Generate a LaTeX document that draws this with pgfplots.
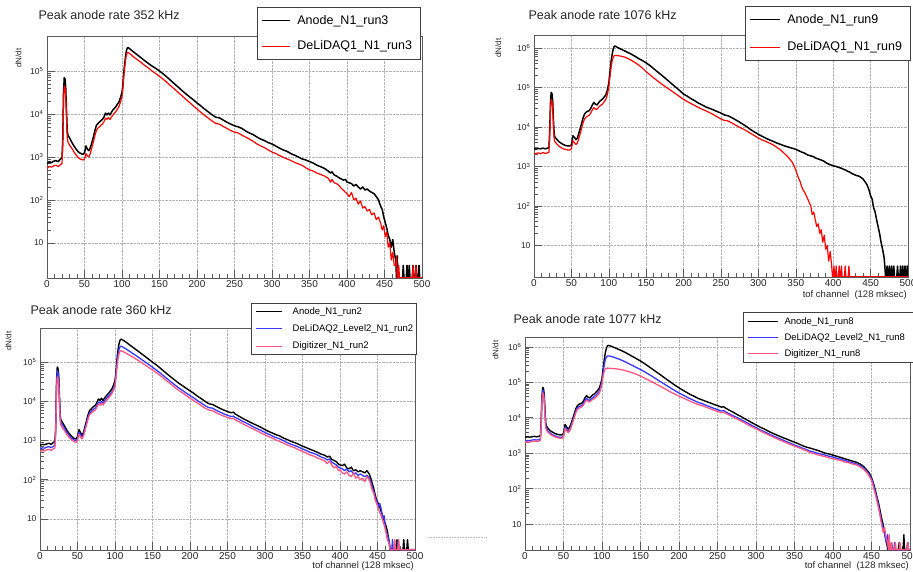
\documentclass[border=0pt]{standalone}
\usepackage{fontspec}
\setmainfont{Liberation Sans}
\usepackage{pgfplots}
\usepackage{pgfplotstable}
\pgfplotsset{compat=1.18}

\definecolor{rootblue}{RGB}{55,55,255}
\definecolor{rootpink}{RGB}{255,85,130}
\definecolor{rootred}{RGB}{255,0,0}
\definecolor{framegray}{RGB}{90,90,90}

% Panel 1: 352 kHz
\pgfplotstableread{
x a r
0 700 550
3 760 600
6 740 580
9 800 620
12 820 640
15 780 600
18 900 660
20 950 700
21 2500 1800
22 30000 20000
23 70000 45000
24 65000 42000
25 40000 25000
26 12000 8000
27 4000 2800
28 3200 2200
30 2800 1900
33 2200 1600
36 1800 1300
39 1500 1100
42 1300 950
45 1200 880
48 1150 850
50 1250 900
52 1800 1200
54 1500 1050
56 1400 1000
58 1700 1250
60 2200 1700
62 3000 2300
64 4200 3200
66 5500 4200
68 6000 4700
70 6500 5000
72 7000 5500
74 7500 5800
76 8500 6600
78 10500 8000
80 9500 7500
82 10500 8200
84 9500 7400
86 11000 8500
88 12500 9500
90 13500 10500
92 15000 11500
94 17000 13000
96 19000 15000
98 24000 19000
100 32000 25000
101 45000 35000
102 75000 60000
103 120000 95000
104 170000 135000
105 240000 190000
106 300000 240000
107 340000 265000
108 350000 270000
110 330000 255000
112 310000 240000
115 280000 215000
120 240000 185000
125 205000 160000
130 175000 135000
135 150000 118000
140 130000 100000
145 115000 87000
150 100000 75000
155 85000 64000
160 72000 54000
165 60000 45000
170 50000 38000
175 42000 31500
180 35000 26500
185 29500 22000
190 25000 18500
195 21500 15500
200 18000 13000
205 15500 11000
210 13000 9300
215 11200 8000
220 9600 6900
225 8400 6000
230 8100 5800
235 7200 5100
240 6400 4600
245 5800 4100
250 5300 3800
255 5000 3600
260 4600 3200
265 4000 2900
270 3600 2600
275 3300 2300
280 2900 2000
285 2600 1800
290 2400 1650
295 2150 1450
300 2000 1300
305 1800 1200
310 1600 1080
315 1450 980
320 1350 900
325 1200 830
330 1100 750
335 1000 690
340 900 640
345 850 560
350 780 500
355 720 470
360 640 420
365 590 390
370 540 360
375 470 320
378 420 260
380 450 300
383 380 250
386 360 240
389 330 220
392 310 190
395 290 170
398 300 150
400 260 140
403 250 120
406 240 150
409 210 100
412 230 110
415 200 80
418 180 95
421 200 65
424 170 70
427 180 55
430 160 60
433 150 45
436 140 50
439 120 35
442 100 40
445 70 28
447 60 20
449 40 25
451 30 14
453 22 18
455 15 8
457 12 10
459 8 4
461 12 6
463 6 3
465 4 3
466 1.55 5
467 5 1.55
468 1.55 1.55
469 1.55 3
470 1.55 1.55
474 1.55 1.55
475 3 1.55
476 1.55 1.55
479 1.55 1.55
480 3 1.55
481 1.55 1.55
482 1.55 1.55
483 3 1.55
484 1.55 1.55
487 1.55 1.55
488 3 3
489 1.55 1.55
491 1.55 1.55
492 3 3
493 1.55 1.55
495 1.55 1.55
496 3 1.55
497 1.55 1.55
500 1.55 1.55
}\tabA

% Panel 2: 1076 kHz
\pgfplotstableread{
x a r
0 2800 2100
3 2750 2150
6 2850 2200
9 2800 2100
12 2900 2250
15 2800 2150
18 2900 2200
20 3000 2300
21 8000 5500
22 40000 28000
23 75000 50000
24 70000 45000
25 45000 30000
26 15000 10000
27 6500 4800
28 5500 4200
30 5000 3800
33 4300 3300
36 3900 3000
39 3600 2800
42 3400 2700
45 3300 2600
48 3300 2600
50 3500 2800
52 6000 4500
54 5500 4000
56 4800 3600
58 5200 3900
60 7000 5200
62 9500 7000
64 13000 10000
66 18000 13500
68 22000 16500
70 24000 18000
72 25000 19000
74 26000 20000
76 30000 23000
78 36000 27000
80 42000 31000
82 38000 28500
84 36000 28000
86 40000 31000
88 45000 34000
90 48000 36000
92 52000 39000
94 58000 44000
96 65000 50000
98 85000 65000
100 130000 100000
101 200000 150000
102 300000 220000
103 450000 320000
104 600000 420000
105 780000 520000
106 950000 590000
107 1080000 630000
108 1120000 650000
110 1080000 650000
112 1030000 640000
115 960000 630000
120 870000 600000
125 780000 550000
130 700000 490000
135 620000 430000
140 540000 370000
145 480000 310000
150 420000 250000
155 360000 210000
160 300000 175000
165 250000 148000
170 210000 125000
175 175000 107000
180 145000 92000
185 120000 79000
190 100000 68000
195 83000 58000
200 68000 50000
205 60000 44000
210 52000 39000
215 46000 35000
220 40000 31000
225 36000 28000
230 32000 25500
235 29500 23000
240 27000 20500
245 24500 18000
250 22500 16000
255 20000 14500
258 19500 14500
260 19000 14000
265 17000 12500
270 15000 11000
275 13200 9800
280 11500 8800
285 10000 7800
290 8500 6800
295 7400 6000
300 6500 5200
305 5800 4700
310 5200 4300
315 4700 3900
320 4300 3500
325 3900 3000
330 3600 2600
335 3300 2100
340 3100 1700
345 2900 1300
348 2800 1000
350 2700 800
353 2550 550
356 2400 400
358 2300 300
360 2250 250
362 2150 220
364 2050 180
366 1950 150
368 1900 120
370 1850 100
372 1800 60
374 1750 70
376 1650 45
378 1600 30
380 1550 35
382 1500 20
384 1450 25
386 1400 12
388 1350 18
390 1250 8
392 1200 10
394 1150 4
396 1100 7
398 1080 3
399 1060 1.6
400 1050 1.6
401 1030 3
402 1020 1.6
403 1010 1.6
404 1000 3
405 980 1.6
407 950 1.6
408 940 3
409 920 1.6
410 910 1.6
411 900 3
412 880 1.6
415 830 1.6
416 820 3
417 800 1.6
420 740 1.6
421 730 3
422 720 1.6
425 660 1.6
430 600 1.6
435 560 1.6
440 480 1.6
445 350 1.6
448 250 1.6
450 180 1.6
452 150 1.6
454 90 1.6
456 70 1.6
458 45 1.6
460 30 1.6
462 20 1.6
464 12 1.6
466 8 1.6
468 5 1.6
469 3 1.6
470 1.6 1.6
471 1.6 1.6
472 3 1.6
473 1.6 1.6
474 1.6 1.6
475 3 1.6
476 1.6 1.6
477 1.6 1.6
478 3 1.6
479 1.6 1.6
480 1.6 1.6
481 3 1.6
482 1.6 1.6
485 1.6 1.6
486 3 1.6
487 1.6 1.6
489 1.6 1.6
490 3 1.6
491 1.6 1.6
492 1.6 1.6
493 3 1.6
494 1.6 1.6
495 1.6 1.6
496 3 1.6
497 1.6 1.6
498 1.6 1.6
499 3 1.6
500 1.6 1.6
}\tabB

% Panel 3: 360 kHz
\pgfplotstableread{
x a b c
0 750 620 520
3 800 650 560
6 780 640 540
9 820 680 580
12 850 700 600
15 800 660 560
18 900 720 620
20 950 760 650
21 2500 2000 1700
22 30000 25000 18000
23 75000 60000 42000
24 70000 55000 40000
25 45000 35000 26000
26 13000 10000 8000
27 4200 3500 3000
28 3300 2800 2400
30 2900 2500 2100
33 2300 2000 1750
36 1800 1600 1400
39 1500 1350 1200
42 1300 1150 1050
45 1150 1050 950
48 1100 1000 900
50 1250 1100 1000
52 1900 1650 1450
54 1600 1400 1250
56 1350 1200 1100
58 1600 1450 1300
60 2300 2000 1800
62 3200 2800 2500
64 4500 3900 3500
66 5800 5000 4500
68 6300 5500 4900
70 7000 6000 5400
72 7500 6400 5700
74 8000 6800 6100
76 9500 8000 7200
78 11500 9500 8600
80 10500 9000 8000
82 12000 10000 9000
84 10500 9000 8000
86 12000 10200 9100
88 13500 11500 10200
90 15000 12800 11300
92 16500 14000 12500
94 18500 15500 14000
96 21000 17500 16000
98 26000 21000 19000
100 34000 27000 24000
101 50000 40000 35000
102 85000 65000 55000
103 140000 105000 85000
104 200000 150000 120000
105 270000 195000 155000
106 330000 230000 180000
107 370000 250000 190000
108 385000 255000 195000
110 370000 245000 188000
112 350000 232000 180000
115 320000 215000 168000
120 270000 185000 148000
125 230000 160000 130000
130 195000 138000 113000
135 165000 118000 98000
140 140000 101000 85000
145 118000 87000 73000
150 100000 74000 63000
155 85000 63000 54000
160 71000 53000 46000
165 59000 44500 38500
170 49000 37000 32000
175 41000 31000 27000
180 34500 26000 22500
185 29000 22000 19000
190 25000 19000 16500
195 21500 16200 14000
200 18500 14000 12000
205 16000 12200 10400
210 13500 10400 9000
215 11700 9000 7800
220 10000 7800 6700
225 8700 6900 6000
230 8300 6700 5800
235 7400 5900 5100
240 6600 5300 4600
245 6000 4800 4200
250 5500 4400 3900
255 5100 4100 3600
258 5300 4200 3700
260 4800 3900 3400
265 4200 3500 3050
270 3700 3100 2700
275 3300 2800 2400
280 2950 2500 2150
285 2650 2200 1950
290 2400 2000 1750
295 2150 1800 1550
300 1900 1600 1400
305 1700 1450 1250
310 1550 1300 1150
315 1400 1180 1020
320 1300 1100 950
325 1150 980 850
330 1050 880 770
335 950 800 700
340 880 740 650
345 800 680 580
350 720 610 530
355 660 560 480
360 600 500 430
365 550 470 400
370 500 430 360
375 450 380 330
380 420 350 300
383 380 320 260
386 400 340 300
389 330 280 240
392 310 260 200
395 290 240 220
398 250 210 170
400 240 200 180
403 230 190 150
406 250 170 140
409 200 190 160
412 190 160 130
415 210 170 120
418 170 140 150
421 180 150 110
424 160 130 120
427 170 140 100
430 160 130 110
433 150 120 90
436 170 130 120
439 140 110 100
441 110 90 75
443 80 65 55
445 60 50 45
447 40 35 30
449 30 28 25
451 25 20 18
453 20 25 15
455 15 18 12
457 12 10 9
459 9 12 7
461 7 5 5
463 5 4 3
465 3 3 2.5
467 1.65 1.65 1.65
469 1.65 1.65 1.65
470 1.65 3 1.65
471 1.65 1.65 1.65
472 1.65 1.65 1.65
473 1.65 1.65 3
474 1.65 1.65 1.65
475 1.65 1.65 1.65
476 3 1.65 1.65
477 1.65 1.65 1.65
478 1.65 3 3
479 1.65 1.65 1.65
484 1.65 1.65 1.65
485 3 1.65 1.65
486 1.65 1.65 1.65
489 1.65 1.65 1.65
490 3 1.65 1.65
491 1.65 1.65 1.65
500 1.65 1.65 1.65
}\tabC

% Panel 4: 1077 kHz
\pgfplotstableread{
x a b c
0 2800 2250 2050
3 2900 2300 2100
6 2850 2250 2050
9 2900 2350 2150
12 3000 2400 2200
15 2900 2350 2150
18 3000 2400 2200
20 3100 2500 2300
21 8000 6500 6000
22 40000 32000 28000
23 72000 60000 50000
24 68000 55000 45000
25 45000 35000 30000
26 16000 13000 11000
27 7000 5800 5200
28 5800 4800 4400
30 5000 4200 3900
33 4300 3700 3400
36 3900 3300 3100
39 3600 3100 2900
42 3400 2900 2750
45 3300 2800 2650
48 3300 2800 2650
50 3600 3000 2850
52 6500 5500 5000
54 5500 4700 4300
56 4800 4100 3800
58 5400 4500 4200
60 7000 6000 5500
62 9500 8200 7500
64 13000 11000 10000
66 18000 15500 14000
68 22000 19000 17000
70 24000 20500 18500
72 25000 21500 19500
74 26000 22500 20500
76 30000 25500 23000
78 37000 31000 28000
80 42000 35000 31000
82 38000 32000 29000
84 36000 31000 28000
86 40000 34000 30500
88 44000 37000 33000
90 47000 39500 35000
92 52000 43000 38000
94 58000 48000 42000
96 66000 54000 47000
98 85000 70000 60000
100 130000 105000 90000
101 200000 160000 130000
102 300000 230000 170000
103 450000 320000 210000
104 620000 410000 235000
105 800000 480000 245000
106 950000 530000 250000
107 1060000 550000 252000
108 1100000 555000 250000
110 1080000 550000 248000
112 1040000 535000 246000
115 980000 515000 244000
120 880000 470000 238000
125 790000 425000 228000
130 700000 380000 215000
135 610000 335000 200000
140 530000 295000 185000
145 460000 260000 168000
150 400000 230000 150000
155 340000 200000 133000
160 285000 172000 117000
165 240000 148000 103000
170 200000 126000 90000
175 168000 108000 79000
180 140000 92000 69000
185 117000 79000 60000
190 98000 67000 52000
195 82000 58000 46000
200 70000 50000 41000
205 60000 44000 36500
210 52000 38500 32500
215 45000 34000 29000
220 40000 30500 26000
225 35000 27000 23500
230 32000 25000 22000
235 29000 22500 20000
240 26500 20500 18200
245 24000 18500 16500
250 22000 17000 15200
255 20000 15500 14000
258 20500 16000 14500
260 19000 15000 13500
265 16500 13000 12000
270 14500 11500 10500
275 12500 10200 9300
280 11000 9000 8200
285 9500 7900 7200
290 8300 6900 6300
295 7200 6000 5500
300 6300 5300 4900
305 5500 4600 4300
310 4900 4100 3800
315 4300 3650 3400
320 3800 3250 3000
325 3400 2900 2700
330 3050 2600 2400
335 2750 2350 2150
340 2500 2100 1950
345 2250 1900 1750
350 2050 1700 1600
355 1850 1550 1450
360 1650 1400 1300
365 1500 1280 1200
370 1400 1150 1050
375 1300 1080 980
380 1200 1000 900
385 1100 940 850
390 1000 880 800
395 950 820 740
400 880 780 700
405 820 720 660
410 760 680 620
415 700 630 570
420 650 580 540
425 600 540 500
430 560 500 470
435 500 450 420
440 420 380 350
443 350 320 300
446 300 270 250
449 230 210 190
451 180 170 150
453 130 120 100
455 90 80 70
457 60 55 45
459 40 35 30
461 25 20 18
463 15 12 10
465 10 8 6
467 6 5 8
469 4 3 4
471 1.9 5 3
472 3 1.9 1.9
473 1.9 3 5
474 1.9 1.9 1.9
475 1.9 1.9 1.9
476 3 1.9 3
477 1.9 1.9 1.9
479 1.9 1.9 1.9
480 1.9 3 1.9
481 1.9 1.9 3
482 1.9 1.9 1.9
485 1.9 1.9 1.9
486 3 1.9 1.9
487 1.9 1.9 3
488 1.9 1.9 1.9
491 1.9 1.9 1.9
492 5 1.9 1.9
493 1.9 1.9 1.9
496 1.9 1.9 1.9
497 3 3 3
498 1.9 1.9 1.9
500 1.9 1.9 1.9
}\tabD

\begin{document}
\begin{tikzpicture}[x=1pt,y=1pt]
\useasboundingbox (0,0) rectangle (913,571);
\clip (0,0) rectangle (913,571);

% ---------- Panel 1 ----------
\begin{axis}[scale only axis, anchor=south west, at={(47pt,293pt)}, width=375pt, height=242pt,
  ymode=log, xmin=0, xmax=500, ymin=1.53, ymax=650000,
  xtick={0,50,...,500}, minor x tick num=4,
  ytick={10,100,1000,10000,100000},
  yticklabels={10,10\textsuperscript{2},10\textsuperscript{3},10\textsuperscript{4},10\textsuperscript{5}},
  /pgf/number format/assume math mode=true,
  tick align=inside, xtick pos=left, ytick pos=left,
  major tick length=8pt, minor tick length=4pt,
  grid=major, major grid style={densely dotted, gray!60, line width=0.5pt},
  axis line style={framegray, line width=0.8pt},
  every tick/.append style={framegray, line width=0.6pt},
  xticklabel style={font=\fontsize{10}{11}\selectfont, text=black!85, inner sep=2pt},
  yticklabel style={font=\fontsize{8.5}{9}\selectfont, text=black!85},
  ylabel={dN/dt},
  ylabel style={font=\fontsize{8}{9}\selectfont, anchor=south east, text=black!85, at={(axis description cs:-0.059,0.963)}},
  legend cell align=left,
  legend style={at={(axis description cs:0.56,1.12)}, anchor=north west, draw=black!75, line width=0.6pt, fill=white, font=\fontsize{12.5}{14}\selectfont, inner xsep=4pt, inner ysep=6pt, row sep=11pt, /tikz/every odd column/.append style={column sep=5pt}},
  legend image code/.code={\draw[#1, line width=1.1pt] (0pt,0pt) -- (28pt,0pt);},
]
\addplot[sharp plot, no markers, black, line width=1.5pt, line join=round] table[x=x, y=a] {\tabA};
\addlegendentry{\makebox[117pt][l]{Anode\_N1\_run3}}
\addplot[sharp plot, no markers, rootred, line width=1.2pt, line join=round] table[x=x, y=r] {\tabA};
\addlegendentry{\makebox[117pt][l]{DeLiDAQ1\_N1\_run3}}
\end{axis}
\node[anchor=west, font=\fontsize{12.5}{14}\selectfont, text=black!85] at (35pt,556pt) {Peak anode rate 352 kHz};

% ---------- Panel 2 ----------
\begin{axis}[scale only axis, anchor=south west, at={(534pt,294pt)}, width=374pt, height=242pt,
  ymode=log, xmin=0, xmax=500, ymin=1.58, ymax=2140000,
  xtick={0,50,...,500}, minor x tick num=4,
  ytick={10,100,1000,10000,100000,1000000},
  yticklabels={10,10\textsuperscript{2},10\textsuperscript{3},10\textsuperscript{4},10\textsuperscript{5},10\textsuperscript{6}},
  /pgf/number format/assume math mode=true,
  tick align=inside, xtick pos=left, ytick pos=left,
  major tick length=8pt, minor tick length=4pt,
  grid=major, major grid style={densely dotted, gray!60, line width=0.5pt},
  axis line style={framegray, line width=0.8pt},
  every tick/.append style={framegray, line width=0.6pt},
  xticklabel style={font=\fontsize{10}{11}\selectfont, text=black!85, inner sep=2pt},
  yticklabel style={font=\fontsize{8.5}{9}\selectfont, text=black!85},
  ylabel={dN/dt},
  ylabel style={font=\fontsize{8}{9}\selectfont, anchor=south east, text=black!85, at={(axis description cs:-0.078,1.0)}},
  xlabel={tof channel\ \ (128 mksec)},
  xlabel style={font=\fontsize{9.5}{10}\selectfont, at={(axis description cs:1,0)}, anchor=north east, inner sep=1pt, yshift=-12pt, text=black!85},
  legend cell align=left,
  legend style={at={(axis description cs:0.564,1.12)}, anchor=north west, draw=black!75, line width=0.6pt, fill=white, font=\fontsize{12.5}{14}\selectfont, inner xsep=4pt, inner ysep=6pt, row sep=13pt, /tikz/every odd column/.append style={column sep=5pt}},
  legend image code/.code={\draw[#1, line width=1.1pt] (0pt,0pt) -- (30pt,0pt);},
]
\addplot[sharp plot, no markers, black, line width=1.5pt, line join=round] table[x=x, y=a] {\tabB};
\addlegendentry{\makebox[117pt][l]{Anode\_N1\_run9}}
\addplot[sharp plot, no markers, rootred, line width=1.2pt, line join=round] table[x=x, y=r] {\tabB};
\addlegendentry{\makebox[117pt][l]{DeLiDAQ1\_N1\_run9}}
\end{axis}
\node[anchor=west, font=\fontsize{12.5}{14}\selectfont, text=black!85] at (525pt,556pt) {Peak anode rate 1076 kHz};

% ---------- Panel 3 ----------
\begin{axis}[scale only axis, anchor=south west, at={(40pt,21pt)}, width=375pt, height=222pt,
  ymode=log, xmin=0, xmax=500, ymin=1.62, ymax=740000,
  xtick={0,50,...,500}, minor x tick num=4,
  ytick={10,100,1000,10000,100000},
  yticklabels={10,10\textsuperscript{2},10\textsuperscript{3},10\textsuperscript{4},10\textsuperscript{5}},
  /pgf/number format/assume math mode=true,
  tick align=inside, xtick pos=left, ytick pos=left,
  major tick length=8pt, minor tick length=4pt,
  grid=major, major grid style={densely dotted, gray!60, line width=0.5pt},
  axis line style={framegray, line width=0.8pt},
  every tick/.append style={framegray, line width=0.6pt},
  xticklabel style={font=\fontsize{10}{11}\selectfont, text=black!85, inner sep=2pt},
  yticklabel style={font=\fontsize{8.5}{9}\selectfont, text=black!85},
  ylabel={dN/dt},
  ylabel style={font=\fontsize{8}{9}\selectfont, anchor=south east, text=black!85, at={(axis description cs:-0.067,1.0)}},
  xlabel={tof channel (128 mksec)},
  xlabel style={font=\fontsize{9.5}{10}\selectfont, at={(axis description cs:1,0)}, anchor=north east, inner sep=1pt, yshift=-10pt, text=black!85},
  legend cell align=left,
  legend style={at={(axis description cs:0.563,1.113)}, anchor=north west, draw=black!75, line width=0.6pt, fill=white, font=\fontsize{9.5}{11}\selectfont, inner xsep=4pt, inner ysep=2pt, row sep=5pt, /tikz/every odd column/.append style={column sep=8pt}},
  legend image code/.code={\draw[#1, line width=1.3pt] (0pt,0pt) -- (26pt,0pt);},
]
\addplot[sharp plot, no markers, black, line width=1.4pt, line join=round] table[x=x, y=a] {\tabC};
\addlegendentry{\makebox[118pt][l]{Anode\_N1\_run2}}
\addplot[sharp plot, no markers, rootblue, line width=1.3pt, line join=round] table[x=x, y=b] {\tabC};
\addlegendentry{\makebox[118pt][l]{DeLiDAQ2\_Level2\_N1\_run2}}
\addplot[sharp plot, no markers, rootpink, line width=1.3pt, line join=round] table[x=x, y=c] {\tabC};
\addlegendentry{\makebox[118pt][l]{Digitizer\_N1\_run2}}
\end{axis}
\node[anchor=west, font=\fontsize{12.5}{14}\selectfont, text=black!85] at (27pt,261pt) {Peak anode rate 360 kHz};

% ---------- Panel 4 ----------
\begin{axis}[scale only axis, anchor=south west, at={(525pt,21pt)}, width=385pt, height=213pt,
  ymode=log, xmin=0, xmax=500, ymin=1.86, ymax=1900000,
  xtick={0,50,...,500}, minor x tick num=4,
  ytick={10,100,1000,10000,100000,1000000},
  yticklabels={10,10\textsuperscript{2},10\textsuperscript{3},10\textsuperscript{4},10\textsuperscript{5},10\textsuperscript{6}},
  /pgf/number format/assume math mode=true,
  tick align=inside, xtick pos=left, ytick pos=left,
  major tick length=8pt, minor tick length=4pt,
  grid=major, major grid style={densely dotted, gray!60, line width=0.5pt},
  axis line style={framegray, line width=0.8pt},
  every tick/.append style={framegray, line width=0.6pt},
  xticklabel style={font=\fontsize{10}{11}\selectfont, text=black!85, inner sep=2pt},
  yticklabel style={font=\fontsize{8.5}{9}\selectfont, text=black!85},
  ylabel={dN/dt},
  ylabel style={font=\fontsize{8}{9}\selectfont, anchor=south east, text=black!85, at={(axis description cs:-0.06,1.0)}},
  xlabel={tof channel\ \ (128 mksec)},
  xlabel style={font=\fontsize{9.5}{10}\selectfont, at={(axis description cs:1,0)}, anchor=north east, inner sep=1pt, yshift=-10pt, text=black!85},
  legend cell align=left,
  legend style={at={(axis description cs:0.566,1.117)}, anchor=north west, draw=black!75, line width=0.6pt, fill=white, font=\fontsize{9.5}{11}\selectfont, inner xsep=4pt, inner ysep=3pt, row sep=3.5pt, /tikz/every odd column/.append style={column sep=4pt}},
  legend image code/.code={\draw[#1, line width=1.3pt] (0pt,0pt) -- (30pt,0pt);},
]
\addplot[sharp plot, no markers, black, line width=1.4pt, line join=round] table[x=x, y=a] {\tabD};
\addlegendentry{\makebox[126pt][l]{Anode\_N1\_run8}}
\addplot[sharp plot, no markers, rootblue, line width=1.3pt, line join=round] table[x=x, y=b] {\tabD};
\addlegendentry{\makebox[126pt][l]{DeLiDAQ2\_Level2\_N1\_run8}}
\addplot[sharp plot, no markers, rootpink, line width=1.3pt, line join=round] table[x=x, y=c] {\tabD};
\addlegendentry{\makebox[126pt][l]{Digitizer\_N1\_run8}}
\end{axis}
\node[anchor=west, font=\fontsize{12.5}{14}\selectfont, text=black!85] at (510pt,252pt) {Peak anode rate 1077 kHz};

\draw[densely dotted, gray!50, line width=0.6pt] (428pt,34pt) -- (487pt,34pt);
\end{tikzpicture}
\end{document}
